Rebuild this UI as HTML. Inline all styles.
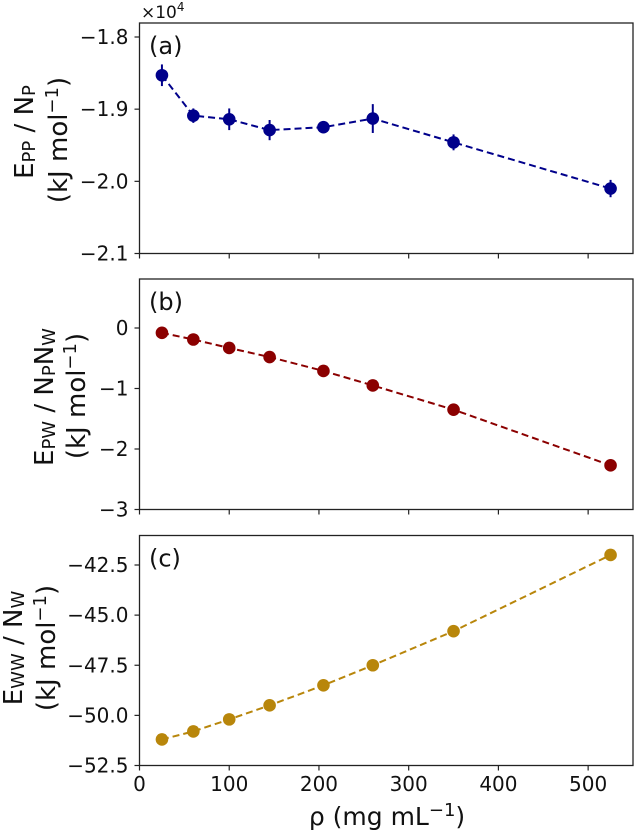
<!DOCTYPE html>
<html><head><meta charset="utf-8"><style>
html,body{margin:0;padding:0;background:#fff;}
svg{display:block;font-family:"DejaVu Sans","Liberation Sans",sans-serif;}
</style></head><body>
<svg id="chart" width="634" height="838" xmlns="http://www.w3.org/2000/svg"></svg>
<script>
const xs = [25, 60, 100, 145, 205, 260, 350, 525];
const epp = [-1.853, -1.909, -1.914, -1.929, -1.925, -1.913, -1.946, -2.010];
const eppErr = [0.015, 0.010, 0.015, 0.014, 0.008, 0.020, 0.011, 0.012];
const epw = [-0.08, -0.19, -0.33, -0.48, -0.71, -0.95, -1.35, -2.27];
const eww = [-51.2, -50.8, -50.2, -49.5, -48.5, -47.5, -45.8, -42.0];
const xTicks = [0, 100, 200, 300, 400, 500];
const aTicks = [-1.8, -1.9, -2.0, -2.1];
const bTicks = [0, -1, -2, -3];
const cTicks = [-42.5, -45.0, -47.5, -50.0, -52.5];

const NS = "http://www.w3.org/2000/svg";
const svg = document.getElementById('chart');
function mk(tag, attrs, parent){const e=document.createElementNS(NS,tag);for(const k in attrs)e.setAttribute(k,attrs[k]);(parent||svg).appendChild(e);return e;}
const L=139.5, R=633;
const xScale = v => L + (v-0)*(R-L)/550;

function panel(name, top, bottom, yScale, ticks, fmt, vals, errs, color, letter){
  const g = mk('g',{});
  
  
  const fr = mk('rect',{x:L,y:top,width:R-L,height:bottom-top,fill:'none',stroke:'#222','stroke-width':1.3},g);
  
  
  xTicks.forEach(t=>{ mk('line',{x1:xScale(t),x2:xScale(t),y1:bottom,y2:bottom+5,stroke:'#222','stroke-width':1.2},g); });
  ticks.forEach(t=>{
    const y=yScale(t);
    mk('line',{x1:L-5,x2:L,y1:y,y2:y,stroke:'#222','stroke-width':1.2},g);
    const tx=mk('text',{x:L-11,y:y+7,'text-anchor':'end','font-size':20,fill:'#111'},g);
    tx.textContent=fmt(t);
    
    
  });
  const pts = xs.map((x,i)=>xScale(x)+','+yScale(vals[i])).join(' ');
  const line = mk('polyline',{points:pts,fill:'none',stroke:color,'stroke-width':2,'stroke-dasharray':'7,4'},g);
  
  
  xs.forEach((x,i)=>{
    if(errs){ mk('line',{x1:xScale(x),x2:xScale(x),y1:yScale(vals[i]-errs[i]),y2:yScale(vals[i]+errs[i]),stroke:color,'stroke-width':2},g); }
    const c = mk('circle',{cx:xScale(x),cy:yScale(vals[i]),r:6.3,fill:color},g);
    
    
  });
  const lt = mk('text',{x:149,y:top+31,'font-size':24,fill:'#111'},g);
  lt.textContent=letter;
  
  
  return g;
}

function yLin(top,bottom,vTop,vBot){return v=> top + (vTop-v)*(bottom-top)/(vTop-vBot);}
const ya = yLin(37,253.5,-1.8,-2.1);
panel('panel-a',23,253.5,ya,aTicks,t=>'\u2212'+Math.abs(t).toFixed(1),epp,eppErr,'#00008b','(a)');
const yb = yLin(328,509.5,0,-3);
panel('panel-b',279,509.5,yb,bTicks,t=>t<0?'\u2212'+Math.abs(t):'0',epw,null,'#8b0000','(b)');
const yc = yLin(565,765.5,-42.5,-52.5);
panel('panel-c',535.5,765.5,yc,cTicks,t=>'\u2212'+Math.abs(t).toFixed(1),eww,null,'#b8860b','(c)');

xTicks.forEach(t=>{
  const tx=mk('text',{x:xScale(t),y:791,'text-anchor':'middle','font-size':20,fill:'#111'});
  tx.textContent=t;
  
  
});
</script>
<svg width="634" height="838" style="position:absolute;left:0;top:0" xmlns="http://www.w3.org/2000/svg" font-family="DejaVu Sans, Liberation Sans, sans-serif">
  <text x="141" y="18" font-size="17" fill="#111">×10<tspan dy="-7" font-size="12">4</tspan></text>
  <text transform="translate(33,132) rotate(-90)" text-anchor="middle" font-size="26" fill="#111">E<tspan font-size="18" dy="2">PP</tspan><tspan dy="-2"> / N</tspan><tspan font-size="18" dy="2">P</tspan></text>
  <text transform="translate(67,140) rotate(-90)" text-anchor="middle" font-size="26" fill="#111">(kJ mol<tspan dy="-9" font-size="18">−1</tspan><tspan dy="9">)</tspan></text>
  <text transform="translate(53,397) rotate(-90)" text-anchor="middle" font-size="26" fill="#111">E<tspan font-size="18" dy="2">PW</tspan><tspan dy="-2"> / N</tspan><tspan font-size="18" dy="2">P</tspan><tspan dy="-2">N</tspan><tspan font-size="18" dy="2">W</tspan></text>
  <text transform="translate(85,396) rotate(-90)" text-anchor="middle" font-size="26" fill="#111">(kJ mol<tspan dy="-9" font-size="18">−1</tspan><tspan dy="9">)</tspan></text>
  <text transform="translate(22,648) rotate(-90)" text-anchor="middle" font-size="26" fill="#111">E<tspan font-size="18" dy="2">WW</tspan><tspan dy="-2"> / N</tspan><tspan font-size="18" dy="2">W</tspan></text>
  <text transform="translate(55,648) rotate(-90)" text-anchor="middle" font-size="26" fill="#111">(kJ mol<tspan dy="-9" font-size="18">−1</tspan><tspan dy="9">)</tspan></text>
  <text x="387" y="825" text-anchor="middle" font-size="25" fill="#111">ρ (mg mL<tspan dy="-9" font-size="18">−1</tspan><tspan dy="9">)</tspan></text>
</svg>
</body></html>
